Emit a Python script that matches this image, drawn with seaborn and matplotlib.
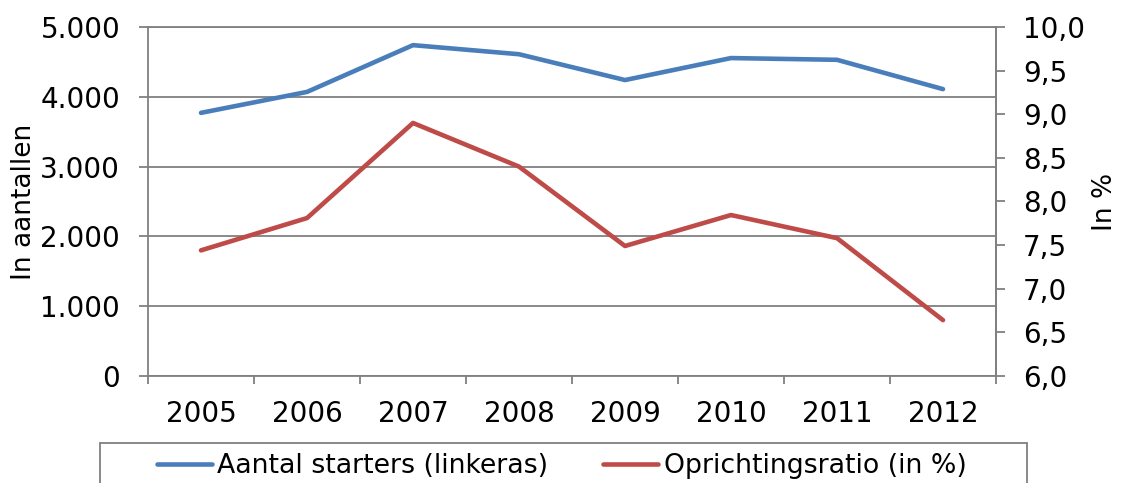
import numpy as np
import pandas as pd
import matplotlib
matplotlib.use("Agg")
import matplotlib.pyplot as plt
import seaborn as sns
from matplotlib.ticker import FuncFormatter, FixedLocator
from matplotlib.patches import Rectangle

years = ["2005", "2006", "2007", "2008", "2009", "2010", "2011", "2012"]
starters = [3770, 4070, 4740, 4610, 4240, 4555, 4530, 4110]
ratio = [7.44, 7.81, 8.90, 8.40, 7.49, 7.845, 7.58, 6.64]

sns.set_style("white")
plt.rcParams["font.family"] = ["DejaVu Sans"]
plt.rcParams["font.size"] = 20
plt.rcParams["text.color"] = "black"
plt.rcParams["axes.labelcolor"] = "black"
plt.rcParams["xtick.color"] = "black"
plt.rcParams["ytick.color"] = "black"

blue = "#4A7EBB"
red = "#BE4B48"
grid_c = "#808080"
FS = 20

df = pd.DataFrame({"pos": np.arange(len(years)), "year": years,
                   "starters": starters, "ratio": ratio})

fig = plt.figure(figsize=(11.21, 4.83), dpi=100)
ax = fig.add_axes([148/1121, 1-376/483, (996-148)/1121, (376-27)/483])
ax2 = ax.twinx()

sns.lineplot(data=df, x="pos", y="starters", ax=ax, color=blue, lw=3.3,
             label="Aantal starters (linkeras)", legend=False)
sns.lineplot(data=df, x="pos", y="ratio", ax=ax2, color=red, lw=3.3,
             label="Oprichtingsratio (in %)", legend=False)
for l in ax.lines + ax2.lines:
    l.set_solid_capstyle("round")
    l.set_solid_joinstyle("round")

ax.set_xlim(-0.5, len(years) - 0.5)
ax.set_ylim(0, 5000)
ax2.set_ylim(6.0, 10.0)

ax.set_yticks(np.arange(0, 5001, 1000))
ax.yaxis.set_major_formatter(FuncFormatter(lambda v, p: f"{int(v):,}".replace(",", ".")))
ax2.set_yticks(np.arange(6.0, 10.01, 0.5))
ax2.yaxis.set_major_formatter(FuncFormatter(lambda v, p: f"{v:.1f}".replace(".", ",")))

ax.xaxis.set_major_locator(FixedLocator(np.arange(-0.5, len(years), 1.0)))
ax.xaxis.set_major_formatter(FuncFormatter(lambda v, p: ""))
ax.xaxis.set_minor_locator(FixedLocator(np.arange(len(years))))
ax.set_xticklabels(years, minor=True)
ax.tick_params(axis="x", which="major", direction="out", length=6, width=1.3, color=grid_c, bottom=True)
ax.tick_params(axis="x", which="minor", length=0, pad=17, labelsize=FS, bottom=True)
ax.tick_params(axis="y", direction="out", length=6.5, width=1.3, color=grid_c, pad=13.5, left=True, labelsize=FS)
ax2.tick_params(axis="y", direction="out", length=6.5, width=1.3, color=grid_c, pad=13, right=True, labelsize=FS)

ax.grid(axis="y", color=grid_c, lw=1.3)
ax.grid(axis="x", visible=False)
for s in ["left", "bottom", "right", "top"]:
    ax.spines[s].set_color(grid_c)
    ax.spines[s].set_linewidth(1.3)
    ax2.spines[s].set_color(grid_c)
    ax2.spines[s].set_linewidth(1.3)
ax2.spines["top"].set_visible(False)
ax2.spines["left"].set_visible(False)
ax2.spines["bottom"].set_visible(False)

ax.set_xlabel("")
ax.set_ylabel("In aantallen", fontsize=19)
ax.yaxis.set_label_coords((24-148)/848, 0.5)
ax2.set_ylabel("In %", fontsize=19)
ax2.yaxis.set_label_coords((1105-148)/848, 0.5)
ax2.yaxis.label.set_va("center")
ax.yaxis.label.set_va("center")

handles = ax.lines[:1] + ax2.lines[:1]
labels = ["Aantal starters (linkeras)", "Oprichtingsratio (in %)"]
leg = fig.legend(handles, labels, loc="center left", bbox_to_anchor=(157/1121, 1-466/483),
                 ncol=2, frameon=False, fontsize=19.3,
                 handlelength=2.05, handletextpad=0.2, columnspacing=2.05,
                 borderpad=0, borderaxespad=0)
fig.patches.append(Rectangle((100/1121, -0.05), (1027-100)/1121, 0.05 + 1-443/483,
                             transform=fig.transFigure, fill=False,
                             edgecolor=grid_c, lw=1.3, figure=fig))

fig.savefig("out.png", dpi=100)
